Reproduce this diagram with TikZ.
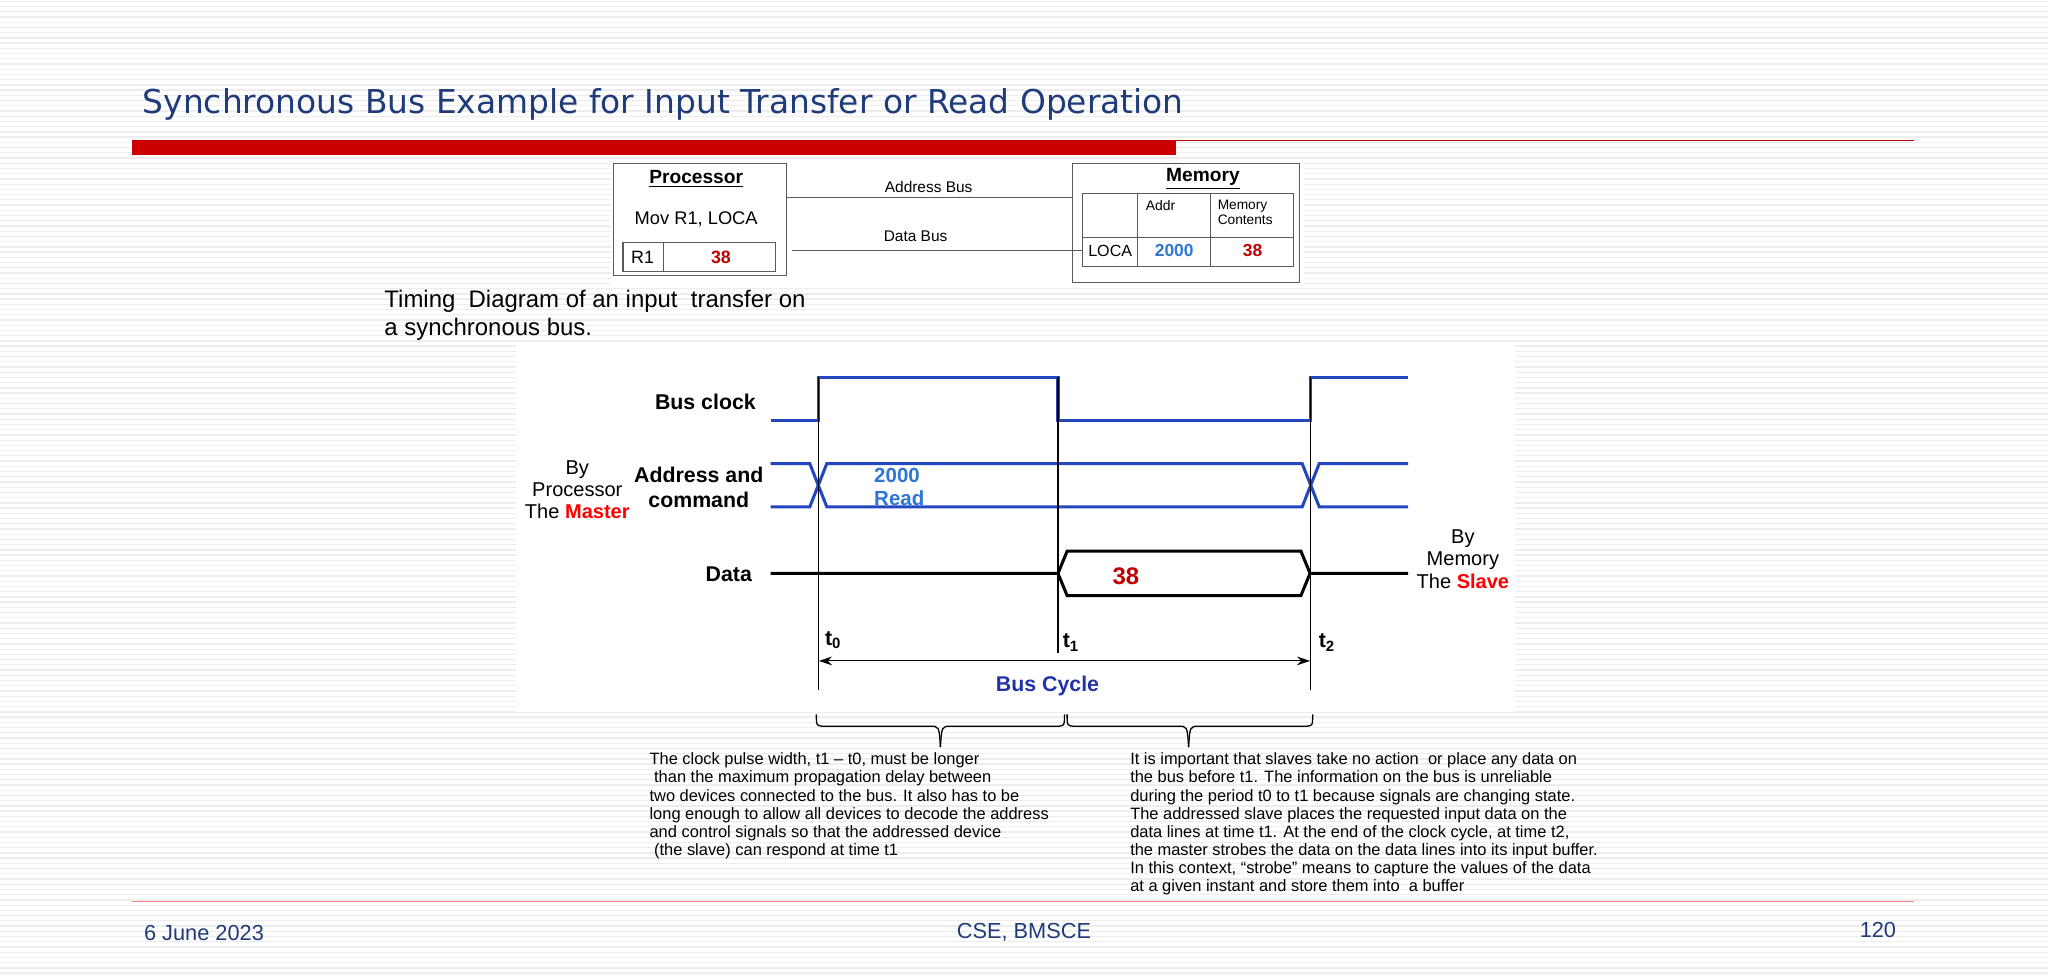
\documentclass[tikz,border=0pt]{standalone}
\usepackage{fontspec}
\setmainfont{Liberation Sans}
\newfontfamily\titlefont{DejaVu Sans}
\usetikzlibrary{arrows.meta}
\definecolor{titleblue}{HTML}{1F3B7A}
\definecolor{sigblue}{HTML}{2347C0}
\definecolor{darkred}{HTML}{C00000}
\definecolor{redbar}{HTML}{CC0000}
\definecolor{lblue}{HTML}{2E75D6}
\definecolor{cycblue}{HTML}{2233AA}
\begin{document}
\begin{tikzpicture}[x=0.6pt,y=-0.6pt,
  para/.style={anchor=north west,align=left,font=\fontsize{7.55}{8.35}\selectfont,inner sep=0},
  lbl/.style={font=\fontsize{9.8}{11.2}\selectfont\bfseries,inner sep=0},
  side/.style={font=\fontsize{9.2}{10.2}\selectfont,align=center,inner sep=0},
  clk/.style={draw=sigblue,line width=1.4pt},
  dat/.style={draw=black,line width=1.4pt},
  vline/.style={draw=black,line width=0.5pt},
  box/.style={draw=gray!70!black,line width=0.5pt},
  small/.style={font=\fontsize{7}{8}\selectfont,inner sep=0}]
\useasboundingbox (0,0) rectangle (1568,747);
\fill[white] (0,0) rectangle (1568,747);
\foreach \i in {0,...,186}{\draw[gray!14,line width=0.6pt] (0,\i*4+1) -- (1568,\i*4+1);}
% title
\node[anchor=west,inner sep=0,text=titleblue,font=\titlefont\fontsize{15.1}{17}\selectfont] (title) at (109,80) {Synchronous Bus Example for Input Transfer or Read Operation};
\fill[redbar] (101,107) rectangle (900,119);
\draw[redbar,line width=0.6pt] (900,107.5) -- (1465,107.5);
% footer
\draw[red!50,line width=0.6pt] (101,690) -- (1465,690);
\node[anchor=west,inner sep=0,text=titleblue,font=\fontsize{10}{12}\selectfont] (date) at (110,714) {6 June 2023};
\node[inner sep=0,text=titleblue,font=\fontsize{10}{12}\selectfont] (cse) at (784,714) {CSE, BMSCE};
\node[anchor=east,inner sep=0,text=titleblue,font=\fontsize{10}{12}\selectfont] (pg) at (1452,712) {120};
% top diagram
\fill[white] (468,122) rectangle (998,218);
\draw[box] (470,125) rectangle (602,211);
\node[small,font=\fontsize{8.8}{9}\selectfont\bfseries] (proc) at (533,137) {\underline{Processor}};
\node[small,font=\fontsize{8.4}{9}\selectfont] (mov) at (533,168) {Mov R1, LOCA};
\draw[box] (477,186) rectangle (594,208);
\draw[box] (508,186) -- (508,208);
\node[small,font=\fontsize{8.2}{9}\selectfont] (r1) at (492,197) {R1};
\node[small,font=\fontsize{8.2}{9}\selectfont\bfseries,text=darkred] (r1v) at (552,197) {38};
\draw[box] (821,125) rectangle (995,216);
\node[small,font=\fontsize{8.8}{9}\selectfont\bfseries] (mem) at (921,137) {\underline{Memory}};
\draw[box] (829,148) rectangle (990,204);
\draw[box] (829,182) -- (990,182);
\draw[box] (871,148) -- (871,204);
\draw[box] (927,148) -- (927,204);
\node[small,font=\fontsize{6.4}{7}\selectfont,anchor=north west] (addr) at (877,153) {Addr};
\node[small,font=\fontsize{6.3}{6.9}\selectfont,anchor=north west,align=left] (mc) at (932,153) {Memory\\Contents};
\node[small,font=\fontsize{7.4}{8}\selectfont] (loca) at (850,192) {LOCA};
\node[small,font=\fontsize{8}{8}\selectfont\bfseries,text=lblue] (a2000) at (899,192) {2000};
\node[small,font=\fontsize{8}{8}\selectfont\bfseries,text=darkred] (m38) at (959,192) {38};
\draw[box] (602,151) -- (821,151);
\draw[box] (606,192) -- (829,192);
\node[small,font=\fontsize{7.1}{8}\selectfont] (ab) at (711,143) {Address Bus};
\node[small,font=\fontsize{7.1}{8}\selectfont] (db) at (701,181) {Data Bus};
% caption
\node[anchor=north west,align=left,inner sep=0,font=\fontsize{11}{12.6}\selectfont] (cap) at (294,222) {Timing\ \ Diagram of an input\ \ transfer on\\a synchronous bus.};
% timing panel
\fill[white] (395,263) rectangle (1160,545);
\draw[clk] (590,322) -- (627,322) -- (627,289) -- (810,289) -- (810,322) -- (1003,322) -- (1003,289) -- (1078,289);
\draw[clk] (590,355) -- (620,355) -- (633,388) -- (997,388) -- (1010,355) -- (1078,355);
\draw[clk] (590,388) -- (620,388) -- (633,355) -- (997,355) -- (1010,388) -- (1078,388);
\draw[dat] (590,439) -- (810,439) -- (817,422) -- (996,422) -- (1003,439) -- (1078,439);
\draw[dat] (810,439) -- (817,456) -- (996,456) -- (1003,439);
\draw[vline] (627,289) -- (627,528);
\draw[vline] (810,289) -- (810,500);
\draw[vline] (1003,289) -- (1003,528);
\draw[vline,{Stealth[length=6pt,width=4pt]}-{Stealth[length=6pt,width=4pt]}] (627,506) -- (1003,506);
\node[lbl,anchor=east] (bc) at (579,308) {Bus clock};
\node[lbl,align=center] (ac) at (535,373) {Address and\\command};
\node[lbl,anchor=east] (dl) at (576,440) {Data};
\node[inner sep=0,align=left,anchor=west,text=lblue,font=\fontsize{9.4}{10.5}\selectfont\bfseries] (rd) at (669,373) {2000\\Read};
\node[inner sep=0,text=darkred,font=\fontsize{11}{12}\selectfont\bfseries] (d38) at (862,441) {38};
\node[lbl] (l0) at (638,490) {t$_{\mathbf 0}$};
\node[lbl] (l1) at (820,492) {t$_{\mathbf 1}$};
\node[lbl] (l2) at (1016,492) {t$_{\mathbf 2}$};
\node[lbl,text=cycblue] (bcy) at (802,525) {Bus Cycle};
\node[side] (bp) at (442,375) {By\\Processor\\The \textbf{\textcolor{red}{Master}}};
\node[side] (bm) at (1120,428) {By\\Memory\\The \textbf{\textcolor{red}{Slave}}};
% braces
\draw[black,line width=0.6pt] (625,547) .. controls (625,556) .. (632,556) -- (712,556) .. controls (719,556) .. (720,572);
\draw[black,line width=0.6pt] (815,547) .. controls (815,556) .. (808,556) -- (728,556) .. controls (721,556) .. (720,572);
\draw[black,line width=0.6pt] (817,547) .. controls (817,556) .. (824,556) -- (902,556) .. controls (909,556) .. (910,572);
\draw[black,line width=0.6pt] (1005,547) .. controls (1005,556) .. (998,556) -- (918,556) .. controls (911,556) .. (910,572);
\node[para] (p1) at (497,576) {The clock pulse width, t1 -- t0, must be longer\\
\ than the maximum propagation delay between\\
two devices connected to the bus. It also has to be\\
long enough to allow all devices to decode the address\\
and control signals so that the addressed device\\
\ (the slave) can respond at time t1};
\node[para] (p2) at (865,576) {It is important that slaves take no action\ \ or place any data on\\
the bus before t1. The information on the bus is unreliable\\
during the period t0 to t1 because signals are changing state.\\
The addressed slave places the requested input data on the\\
data lines at time t1. At the end of the clock cycle, at time t2,\\
the master strobes the data on the data lines into its input buffer.\\
In this context, “strobe” means to capture the values of the data\\
at a given instant and store them into\ \ a buffer};
\end{tikzpicture}
\end{document}
